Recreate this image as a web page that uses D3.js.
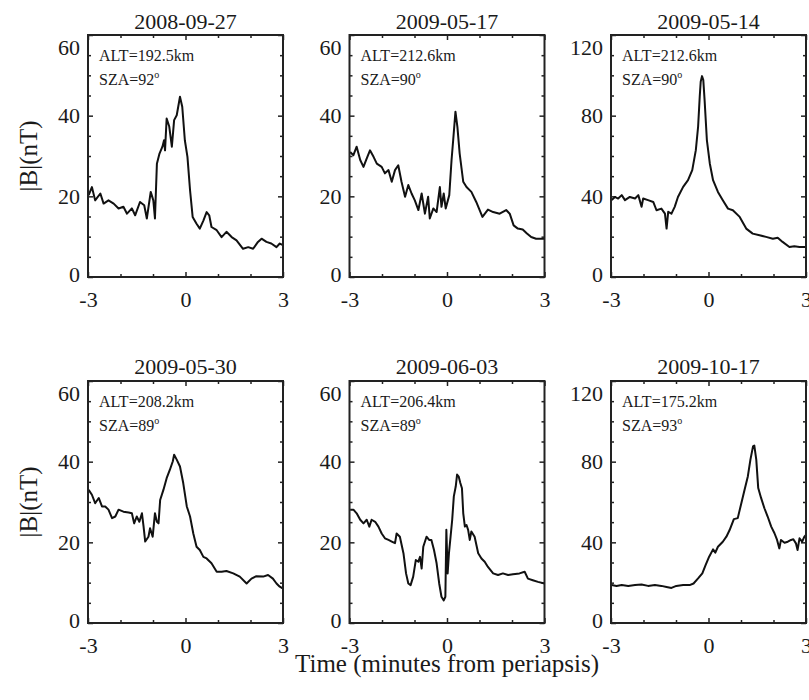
<!DOCTYPE html>
<html>
<head>
<meta charset="utf-8">
<script src="https://cdn.jsdelivr.net/npm/d3@7"></script>
<style>
  body { margin: 0; background: #fff; }
  svg { display: block; }
  text { font-family: "Liberation Serif", "Times New Roman", serif; fill: #1a1a1a; }
</style>
</head>
<body>
<div id="chart"></div>
<script>
// panel labels
const dates = ["2008-09-27", "2009-05-17", "2009-05-14", "2009-05-30", "2009-06-03", "2009-10-17"];
const alts = ["192.5", "212.6", "212.6", "208.2", "206.4", "175.2"];
const szas = ["92", "90", "90", "89", "89", "93"];
const yMaxes = [60, 60, 120, 60, 60, 120];
const xTicks = [-3, 0, 3];

// |B| (nT) versus time from periapsis (min)
const b20080927 = [
  [-2.98, 20.3], [-2.88, 22.3], [-2.78, 19.0], [-2.62, 20.7], [-2.52, 18.2], [-2.37, 19.0],
  [-2.21, 18.2], [-2.06, 17.0], [-1.91, 17.4], [-1.80, 15.7], [-1.65, 17.0], [-1.55, 15.3],
  [-1.40, 18.6], [-1.27, 17.8], [-1.19, 14.5], [-1.07, 21.1], [-0.99, 19.0], [-0.94, 14.5],
  [-0.88, 28.1], [-0.80, 30.6], [-0.71, 32.3], [-0.66, 33.9], [-0.63, 31.4], [-0.58, 39.3],
  [-0.50, 37.3], [-0.42, 32.3], [-0.35, 38.9], [-0.27, 40.1], [-0.17, 44.7], [-0.10, 42.2],
  [-0.02, 33.9], [0.06, 29.8], [0.14, 21.5], [0.22, 14.9], [0.34, 13.2], [0.44, 12.0],
  [0.55, 14.0], [0.65, 16.1], [0.73, 15.3], [0.80, 12.4], [0.96, 11.6], [1.11, 9.9],
  [1.26, 11.2], [1.42, 9.9], [1.57, 9.1], [1.77, 7.0], [1.93, 7.4], [2.08, 7.0],
  [2.23, 8.7], [2.34, 9.5], [2.49, 8.7], [2.64, 8.3], [2.80, 7.4], [2.90, 8.3], [3.00, 7.9]
];
const b20090517 = [
  [-2.98, 31.0], [-2.88, 30.2], [-2.78, 32.3], [-2.67, 29.0], [-2.57, 27.3], [-2.49, 29.0],
  [-2.37, 31.4], [-2.26, 29.8], [-2.16, 28.1], [-2.01, 27.3], [-1.91, 25.7], [-1.80, 26.5],
  [-1.70, 23.6], [-1.60, 26.5], [-1.50, 27.7], [-1.40, 23.6], [-1.29, 19.9], [-1.19, 22.8],
  [-1.09, 20.7], [-0.99, 19.0], [-0.88, 16.6], [-0.78, 20.7], [-0.68, 15.7], [-0.58, 19.9],
  [-0.53, 14.5], [-0.42, 17.0], [-0.32, 16.1], [-0.22, 22.3], [-0.17, 17.4], [-0.10, 20.7],
  [-0.04, 17.0], [0.07, 20.3], [0.14, 29.0], [0.19, 33.9], [0.26, 41.0], [0.32, 37.2],
  [0.39, 30.6], [0.50, 23.6], [0.60, 22.3], [0.75, 21.1], [0.90, 18.6], [1.09, 14.9],
  [1.26, 16.7], [1.42, 16.1], [1.62, 15.7], [1.82, 16.6], [1.93, 15.7], [2.05, 12.8],
  [2.18, 12.0], [2.33, 11.8], [2.46, 10.8], [2.59, 9.9], [2.74, 9.5], [2.90, 9.5], [3.00, 9.5]
];
const b20090514 = [
  [-2.98, 38.1], [-2.88, 39.7], [-2.78, 38.9], [-2.67, 40.6], [-2.57, 38.1], [-2.42, 39.7],
  [-2.26, 38.9], [-2.16, 40.6], [-2.06, 34.8], [-2.01, 38.9], [-1.86, 38.1], [-1.70, 37.2],
  [-1.60, 33.1], [-1.45, 33.9], [-1.34, 31.4], [-1.29, 24.0], [-1.24, 32.3], [-1.14, 31.4],
  [-1.04, 34.8], [-0.94, 39.7], [-0.78, 44.7], [-0.63, 48.0], [-0.50, 53.0], [-0.39, 62.9],
  [-0.32, 74.5], [-0.27, 89.4], [-0.24, 96.8], [-0.20, 99.6], [-0.16, 97.6], [-0.12, 87.7],
  [-0.05, 67.9], [0.04, 56.3], [0.14, 48.0], [0.29, 42.2], [0.44, 38.1], [0.60, 33.9],
  [0.75, 33.1], [0.96, 29.8], [1.16, 24.0], [1.36, 21.5], [1.57, 20.7], [1.77, 19.9],
  [1.98, 19.0], [2.13, 19.5], [2.28, 17.4], [2.49, 14.9], [2.64, 15.2], [2.80, 14.9], [2.97, 14.9]
];
const b20090530 = [
  [-2.98, 33.0], [-2.88, 31.8], [-2.78, 29.7], [-2.67, 31.0], [-2.57, 28.9], [-2.47, 28.9],
  [-2.37, 28.1], [-2.26, 26.0], [-2.16, 26.4], [-2.06, 28.1], [-1.91, 27.6], [-1.75, 27.4],
  [-1.65, 27.2], [-1.58, 24.7], [-1.50, 26.4], [-1.42, 25.1], [-1.34, 27.2], [-1.29, 23.9],
  [-1.24, 20.2], [-1.14, 21.4], [-1.09, 23.5], [-1.01, 21.4], [-0.94, 27.2], [-0.88, 25.1],
  [-0.83, 24.7], [-0.78, 30.5], [-0.68, 33.0], [-0.58, 35.9], [-0.48, 38.0], [-0.39, 40.1],
  [-0.35, 41.7], [-0.27, 40.5], [-0.17, 38.8], [-0.07, 34.7], [0.04, 28.9], [0.14, 26.4],
  [0.24, 22.2], [0.34, 18.9], [0.44, 18.1], [0.55, 16.4], [0.65, 16.0], [0.80, 14.8],
  [0.96, 12.7], [1.11, 12.7], [1.26, 12.9], [1.47, 12.3], [1.67, 11.5], [1.88, 9.8],
  [2.03, 11.0], [2.18, 11.6], [2.39, 11.5], [2.54, 11.9], [2.69, 11.0], [2.80, 9.8],
  [2.90, 9.0], [3.00, 8.5]
];
const b20090603 = [
  [-2.98, 28.1], [-2.88, 28.1], [-2.78, 27.2], [-2.67, 25.6], [-2.57, 24.7], [-2.47, 25.6],
  [-2.39, 23.9], [-2.32, 25.6], [-2.21, 25.1], [-2.11, 23.9], [-2.01, 22.2], [-1.91, 21.0],
  [-1.80, 20.6], [-1.70, 20.2], [-1.60, 19.8], [-1.55, 22.2], [-1.45, 21.4], [-1.34, 17.3],
  [-1.26, 12.3], [-1.19, 9.8], [-1.12, 9.4], [-1.04, 11.5], [-0.96, 15.6], [-0.88, 15.2],
  [-0.83, 16.4], [-0.78, 13.5], [-0.73, 18.9], [-0.63, 21.4], [-0.55, 20.6], [-0.48, 20.6],
  [-0.40, 18.1], [-0.32, 14.8], [-0.24, 9.8], [-0.17, 6.5], [-0.10, 5.6], [-0.05, 6.5],
  [-0.02, 23.1], [0.02, 12.3], [0.06, 17.3], [0.11, 21.4], [0.16, 25.6], [0.21, 31.4],
  [0.27, 33.9], [0.31, 36.8], [0.36, 36.3], [0.41, 34.7], [0.46, 33.4], [0.50, 27.2],
  [0.55, 23.9], [0.60, 24.3], [0.65, 23.1], [0.70, 20.6], [0.75, 22.7], [0.85, 21.4],
  [0.96, 17.3], [1.06, 16.0], [1.16, 15.2], [1.26, 13.9], [1.42, 12.3], [1.57, 11.9],
  [1.72, 12.3], [1.88, 11.9], [2.03, 12.1], [2.23, 12.3], [2.39, 12.7], [2.49, 11.0],
  [2.64, 10.6], [2.80, 10.2], [3.00, 9.8]
];
const b20091017 = [
  [-2.98, 18.8], [-2.83, 18.4], [-2.67, 18.8], [-2.47, 18.4], [-2.26, 18.8], [-2.06, 19.1],
  [-1.86, 18.4], [-1.65, 18.8], [-1.45, 18.4], [-1.29, 17.9], [-1.14, 17.4], [-0.99, 18.4],
  [-0.78, 18.8], [-0.58, 18.8], [-0.46, 19.6], [-0.32, 22.1], [-0.19, 24.6], [-0.09, 28.7],
  [0.02, 32.9], [0.14, 36.5], [0.21, 34.9], [0.29, 37.8], [0.44, 40.3], [0.55, 42.8],
  [0.65, 46.1], [0.78, 51.5], [0.90, 52.0], [1.01, 59.4], [1.11, 66.1], [1.21, 72.7],
  [1.29, 81.0], [1.37, 87.6], [1.41, 88.0], [1.47, 81.0], [1.53, 66.9], [1.62, 61.9],
  [1.72, 56.9], [1.82, 52.8], [1.93, 47.8], [2.03, 44.5], [2.11, 41.2], [2.18, 37.0],
  [2.23, 41.2], [2.34, 39.8], [2.44, 40.3], [2.54, 41.2], [2.61, 41.5], [2.69, 39.5],
  [2.74, 36.2], [2.80, 42.0], [2.88, 40.3], [2.95, 42.8], [3.00, 43.7]
];
const series = [b20080927, b20090517, b20090514, b20090530, b20090603, b20091017];

const width = 809, height = 700;
const panelW = 195, panelH = 242;
const lefts = [88, 349.5, 611];
const tops = [35, 381];

const svg = d3.select("#chart").append("svg")
    .attr("width", width)
    .attr("height", height);

series.forEach(function (data, i) {
    const col = i % 3, row = Math.floor(i / 3);
    const yMax = yMaxes[i];
    const g = svg.append("g")
        .attr("transform", "translate(" + lefts[col] + "," + tops[row] + ")");

    const x = d3.scaleLinear().domain([-3, 3]).range([0, panelW]);
    const y = d3.scaleLinear().domain([0, yMax]).range([panelH, 0]);
    const yMajor = d3.range(0, yMax + 1, yMax / 3);
    const yMinor = d3.range(0, yMax + 1, yMax / 12).filter(v => yMajor.indexOf(v) < 0);
    const xMinor = [-2, -1, 1, 2];

    // minor ticks on all four sides (inward)
    g.append("g").attr("transform", "translate(0," + panelH + ")")
        .call(d3.axisBottom(x).tickValues(xMinor).tickSize(-3).tickFormat(""));
    g.append("g")
        .call(d3.axisTop(x).tickValues(xMinor).tickSize(-3).tickFormat(""));
    g.append("g")
        .call(d3.axisLeft(y).tickValues(yMinor).tickSize(-3).tickFormat(""));
    g.append("g").attr("transform", "translate(" + panelW + ",0)")
        .call(d3.axisRight(y).tickValues(yMinor).tickSize(-3).tickFormat(""));

    // major ticks with labels
    g.append("g").attr("class", "xaxis").attr("transform", "translate(0," + panelH + ")")
        .call(d3.axisBottom(x).tickValues(xTicks).tickSize(-5).tickPadding(14)
            .tickFormat(d => d < 0 ? "-" + Math.abs(d) : d));
    g.append("g")
        .call(d3.axisTop(x).tickValues(xTicks).tickSize(-5).tickFormat(""));
    g.append("g").attr("class", "yaxis")
        .call(d3.axisLeft(y).tickValues(yMajor).tickSize(-5).tickPadding(8));
    g.append("g").attr("transform", "translate(" + panelW + ",0)")
        .call(d3.axisRight(y).tickValues(yMajor).tickSize(-5).tickFormat(""));

    g.selectAll(".domain").remove();
    g.selectAll(".tick line").attr("stroke", "#222").attr("stroke-width", 1.5);
    g.selectAll(".tick text")
        .style("font-family", "'Liberation Serif', 'Times New Roman', serif")
        .style("font-size", "22px")
        .attr("fill", "#1a1a1a");
    // top y label sits below its tick, zero label slightly above
    g.selectAll(".yaxis .tick text")
        .attr("y", d => d === yMax ? 12 : (d === 0 ? -3 : 0));

    // data line
    const line = d3.line()
        .x(d => x(d[0]))
        .y(d => y(d[1]));
    g.append("path")
        .datum(data)
        .attr("fill", "none")
        .attr("stroke", "#111")
        .attr("stroke-width", 2)
        .attr("stroke-linejoin", "round")
        .attr("d", line);

    // frame
    g.append("rect")
        .attr("width", panelW)
        .attr("height", panelH)
        .attr("fill", "none")
        .attr("stroke", "#222")
        .attr("stroke-width", 2);

    // title
    g.append("text")
        .attr("x", panelW / 2)
        .attr("y", row === 0 ? -6 : -7)
        .attr("text-anchor", "middle")
        .style("font-size", "22px")
        .text(dates[i]);

    // annotations
    g.append("text")
        .attr("x", 11)
        .attr("y", 26)
        .style("font-size", "16px")
        .text("ALT=" + alts[i] + "km");
    const sza = g.append("text")
        .attr("x", 11)
        .attr("y", 50)
        .style("font-size", "16px")
        .text("SZA=" + szas[i]);
    sza.append("tspan")
        .attr("dy", -7)
        .style("font-size", "10px")
        .text("o");

    // y-axis title on the left column
    if (col === 0) {
        svg.append("text")
            .attr("transform", "translate(28," + (tops[row] + panelH / 2) + ") rotate(-90)")
            .attr("text-anchor", "middle")
            .attr("dominant-baseline", "central")
            .style("font-size", "25px")
            .text("|B|(nT)");
    }
});

svg.append("text")
    .attr("x", lefts[1] + panelW / 2)
    .attr("y", 672)
    .attr("text-anchor", "middle")
    .style("font-size", "25px")
    .text("Time (minutes from periapsis)");
</script>
</body>
</html>
